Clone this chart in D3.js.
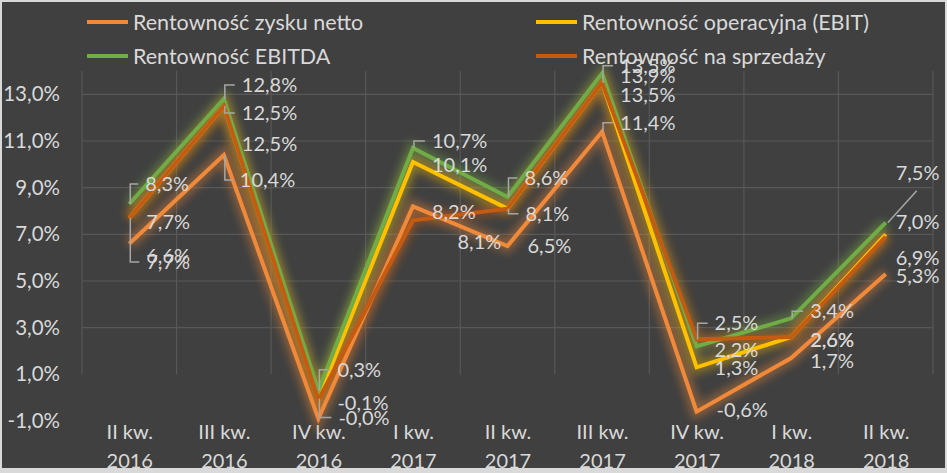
<!DOCTYPE html>
<html>
<head>
<meta charset="utf-8">
<script src="https://cdn.jsdelivr.net/npm/d3@7"></script>
<style>
  html, body { margin: 0; padding: 0; background: #d9d9d9; }
  svg { display: block; }
</style>
</head>
<body>
<svg id="chart" width="947" height="473"></svg>
<script>
// ---------- DATA ----------
const categories = ["II kw.|2016", "III kw.|2016", "IV kw.|2016", "I kw.|2017", "II kw.|2017",
                    "III kw.|2017", "IV kw.|2017", "I kw.|2018", "II kw.|2018"];
const seriesNames = ["Rentowność zysku netto", "Rentowność operacyjna (EBIT)",
                     "Rentowność EBITDA", "Rentowność na sprzedaży"];
const netMargin    = [6.6, 10.4, -0.9, 8.2, 6.5, 11.4, -0.6, 1.7, 5.3];
const ebitMargin   = [7.7, 12.5, -0.04, 10.1, 8.1, 13.5, 1.3, 2.6, 7.0];
const ebitdaMargin = [8.3, 12.8, 0.3, 10.7, 8.6, 13.9, 2.2, 3.4, 7.5];
const salesMargin  = [7.7, 12.5, -0.1, 7.6, 8.1, 13.5, 2.5, 2.6, 6.9];
const yTicks = [-1, 1, 3, 5, 7, 9, 11, 13];
const yDomain = [-1, 14];

// ---------- LAYOUT (label offsets: [dx, dy, leaderType]; null = no label) ----------
const netLabelPos    = [[17,12,0],[16,25,1],null,[19,6,0],[20,0,0],[18,-9,1],[20,-2,0],[19,3,0],[10,2,0]];
const ebitLabelPos   = [[17,44,1],[18,38,0],[20,19,1],[19,3,0],[18,5,1],[18,-17,1],[18,1,0],[19,3,0],[10,-12,0]];
const ebitdaLabelPos = [[16,-20,1],[18,-14,1],[19,-21,1],[19,-7,1],[17,-19,1],[18,3,0],[18,4,0],[19,-7,1],[10,-50,2]];
const salesLabelPos  = [[17,4,0],[18,7,1],[19,3,0],null,[-50,33,0],[18,12,0],[18,-16,1],[19,3,0],[10,21,0]];

const colors = ["#F08A3A", "#FFC000", "#70AD47", "#C55A11"];
const textColor = "#d9d9d9";
const fontFamily = "Lato, 'Open Sans', sans-serif";

const series = [
  { name: seriesNames[0], values: netMargin,    labels: netLabelPos,    color: colors[0] },
  { name: seriesNames[1], values: ebitMargin,   labels: ebitLabelPos,   color: colors[1] },
  { name: seriesNames[2], values: ebitdaMargin, labels: ebitdaLabelPos, color: colors[2] },
  { name: seriesNames[3], values: salesMargin,  labels: salesLabelPos,  color: colors[3] }
];

const fmt = v => v.toFixed(1).replace(".", ",") + "%";

// ---------- CHART ----------
const svg = d3.select("#chart");
const W = 947, H = 473;

svg.append("rect").attr("x", 2).attr("y", 2).attr("width", W - 4).attr("height", H - 7)
  .attr("fill", "#404040");

const plot = { left: 82, right: 933, top: 71, bottom: 421 };
const x = d3.scalePoint().domain(categories).range([plot.left, plot.right]).padding(0.5);
const y = d3.scaleLinear().domain(yDomain).range([plot.bottom, plot.top]);
const step = x.step();

// glow filter
const defs = svg.append("defs");
const f = defs.append("filter").attr("id", "glow")
  .attr("x", "-20%").attr("y", "-20%").attr("width", "140%").attr("height", "140%");
f.append("feGaussianBlur").attr("stdDeviation", 4);

// gridlines
const grid = svg.append("g");
grid.selectAll("line.h").data(yTicks.filter(t => t >= 3)).enter().append("line")
  .attr("x1", plot.left).attr("x2", plot.right)
  .attr("y1", d => y(d)).attr("y2", d => y(d))
  .attr("stroke", "#585858").attr("stroke-width", 1.2);
const vx = d3.range(categories.length + 1).map(i => plot.left + i * step);
grid.selectAll("line.v").data(vx).enter().append("line")
  .attr("x1", d => d).attr("x2", d => d)
  .attr("y1", plot.top).attr("y2", y(1))
  .attr("stroke", "#585858").attr("stroke-width", 1.2);

// y axis labels
const yAxis = d3.axisLeft(y).tickValues(yTicks).tickFormat(fmt).tickSize(0).tickPadding(0);
const gy = svg.append("g").attr("transform", "translate(60,0)").call(yAxis);
gy.select(".domain").remove();
gy.selectAll("text").attr("fill", textColor).attr("font-size", 20.5).attr("font-family", fontFamily);

// x axis labels
const xAxis = d3.axisBottom(x).tickSize(0).tickFormat("");
const gx = svg.append("g").attr("transform", `translate(0,${plot.bottom})`).call(xAxis);
gx.select(".domain").remove();
gx.selectAll(".tick").each(function(d) {
  const parts = d.split("|");
  const t = d3.select(this).append("text").attr("fill", textColor)
    .attr("font-size", 20).attr("font-family", fontFamily).attr("text-anchor", "middle");
  t.append("tspan").attr("x", 0).attr("y", 18).text(parts[0]);
  t.append("tspan").attr("x", 0).attr("y", 47).text(parts[1]);
});

// lines
const line = d3.line().x((d, i) => x(categories[i])).y(d => y(d));
const glowG = svg.append("g").attr("filter", "url(#glow)");
series.forEach(s => {
  glowG.append("path").datum(s.values).attr("d", line)
    .attr("fill", "none").attr("stroke", s.color).attr("stroke-width", 12)
    .attr("stroke-opacity", 0.4).attr("stroke-linejoin", "miter");
});
const linesG = svg.append("g");
series.forEach(s => {
  linesG.append("path").datum(s.values).attr("d", line)
    .attr("fill", "none").attr("stroke", s.color).attr("stroke-width", 4)
    .attr("stroke-linejoin", "miter").attr("stroke-linecap", "butt");
});

// data labels
const labG = svg.append("g");
series.forEach(s => {
  s.values.forEach((v, i) => {
    const pos = s.labels[i];
    if (!pos) return;
    const px = x(categories[i]), py = y(v);
    const tx = px + pos[0], ty = py + pos[1];
    if (pos[2] === 1) {
      labG.append("path")
        .attr("d", `M${px + 1},${py} L${px + 1},${ty} L${tx - 7},${ty}`)
        .attr("fill", "none").attr("stroke", "#a6a6a6").attr("stroke-width", 1.5);
    } else if (pos[2] === 2) {
      labG.append("path")
        .attr("d", `M${px + 2},${py} L${tx + 21},${ty + 18}`)
        .attr("fill", "none").attr("stroke", "#a6a6a6").attr("stroke-width", 1.5);
    }
    labG.append("text").attr("x", tx).attr("y", ty).attr("dy", "0.35em")
      .attr("fill", textColor).attr("font-size", 20).attr("font-family", fontFamily)
      .text(fmt(v));
  });
});

// legend
const legendPos = [[87, 22], [536, 22], [87, 56], [536, 56]];
const lg = svg.append("g");
series.forEach((s, i) => {
  const [lx, ly] = legendPos[i];
  lg.append("line").attr("x1", lx).attr("x2", lx + 41).attr("y1", ly).attr("y2", ly)
    .attr("stroke", s.color).attr("stroke-width", 4);
  lg.append("text").attr("x", lx + 46).attr("y", ly).attr("dy", "0.35em")
    .attr("fill", textColor).attr("font-size", 21.5).attr("font-family", fontFamily)
    .text(s.name);
});
</script>
</body>
</html>
